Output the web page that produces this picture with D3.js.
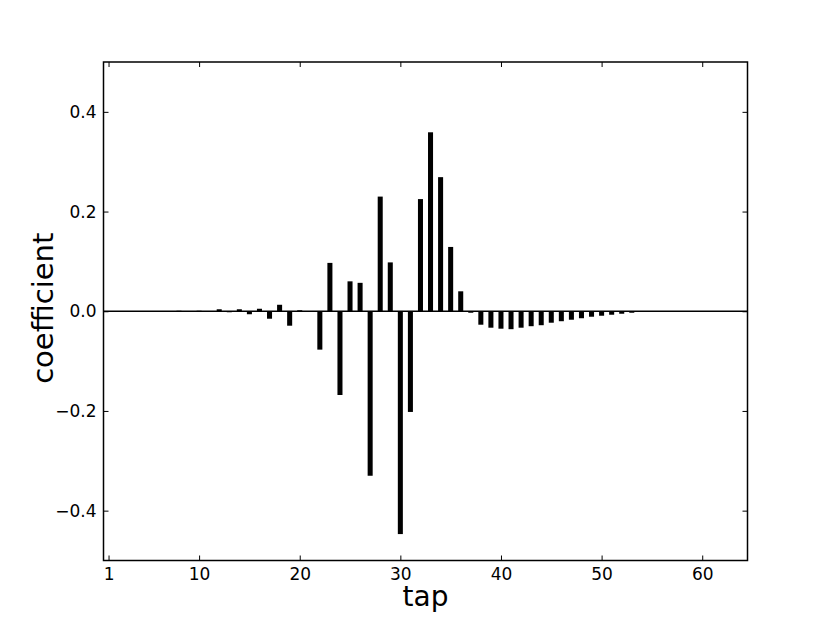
<!DOCTYPE html>
<html>
<head>
<meta charset="utf-8">
<script src="https://cdn.jsdelivr.net/npm/d3@7"></script>
<style>
  html, body { margin: 0; padding: 0; background: #fff; }
  svg { display: block; font-family: "DejaVu Sans", sans-serif; }
</style>
</head>
<body>
<svg id="chart" width="830" height="623"></svg>
<script>
const taps = d3.range(1, 65);
const coefficients = [
  0, 0, 0, 0, 0, 0, 0.0005, 0.001, 0.0005, 0.001,
  0.0005, 0.004, -0.002, 0.004, -0.006, 0.005, -0.015, 0.013, -0.029, 0.002,
  0, -0.077, 0.097, -0.168, 0.060, 0.057, -0.330, 0.230, 0.098, -0.447,
  -0.202, 0.225, 0.359, 0.269, 0.129, 0.040, -0.003, -0.027, -0.033, -0.035,
  -0.036, -0.033, -0.030, -0.028, -0.023, -0.020, -0.017, -0.014, -0.011, -0.009,
  -0.007, -0.005, -0.003, -0.001, 0, 0, 0, 0, 0, 0,
  0, 0, 0, 0
];
const xTicks = [1, 10, 20, 30, 40, 50, 60];
const yTicks = [-0.4, -0.2, 0.0, 0.2, 0.4];
const xLabel = "tap";
const yLabel = "coefficient";

const svg = d3.select("#chart");
const L = 103.5, R = 747.5, T = 62, B = 560.5;

const x = d3.scaleLinear().domain([0.5, 64.5]).range([L, R]);
const y = d3.scaleLinear().domain([-0.5, 0.5]).range([B, T]);
const barW = 0.5;

const data = taps.map((t, i) => ({ tap: t, v: coefficients[i] }));

// bars
svg.append("g").selectAll("rect").data(data).join("rect")
  .attr("x", d => x(d.tap - barW / 2))
  .attr("width", d => x(d.tap + barW / 2) - x(d.tap - barW / 2))
  .attr("y", d => y(Math.max(0, d.v)))
  .attr("height", d => Math.abs(y(d.v) - y(0)))
  .attr("fill", "#000");

// zero line
svg.append("line")
  .attr("x1", L).attr("x2", R)
  .attr("y1", y(0)).attr("y2", y(0))
  .attr("stroke", "#000").attr("stroke-width", 1.5);

const fmtY = d => d3.format(".1f")(d).replace("-", "\u2212");
const tickLen = 5;

// axes (ticks inward, matplotlib style)
const axBottom = d3.axisBottom(x).tickValues(xTicks).tickSize(-tickLen).tickPadding(7).tickFormat(d3.format("d"));
const axTop = d3.axisTop(x).tickValues(xTicks).tickSize(-tickLen).tickFormat("");
const axLeft = d3.axisLeft(y).tickValues(yTicks).tickSize(-tickLen).tickPadding(7).tickFormat(fmtY);
const axRight = d3.axisRight(y).tickValues(yTicks).tickSize(-tickLen).tickFormat("");

function style(g) {
  g.select(".domain").remove();
  g.selectAll(".tick line").attr("stroke", "#000").attr("stroke-width", 1);
  g.selectAll(".tick text").attr("fill", "#000").attr("font-size", 17)
    .attr("font-family", "'DejaVu Sans', sans-serif");
}
svg.append("g").attr("transform", `translate(0,${B})`).call(axBottom).call(style);
svg.append("g").attr("transform", `translate(0,${T})`).call(axTop).call(style);
svg.append("g").attr("transform", `translate(${L},0)`).call(axLeft).call(style);
svg.append("g").attr("transform", `translate(${R},0)`).call(axRight).call(style);

// frame
svg.append("rect")
  .attr("x", L).attr("y", T).attr("width", R - L).attr("height", B - T)
  .attr("fill", "none").attr("stroke", "#000").attr("stroke-width", 1.5);

// axis labels
svg.append("text")
  .attr("x", (L + R) / 2).attr("y", 606)
  .attr("text-anchor", "middle").attr("font-size", 28).attr("fill", "#000")
  .text(xLabel);
svg.append("text")
  .attr("transform", `translate(53,${(T + B) / 2 - 3}) rotate(-90)`)
  .attr("text-anchor", "middle").attr("font-size", 29).attr("fill", "#000")
  .text(yLabel);
</script>
</body>
</html>
